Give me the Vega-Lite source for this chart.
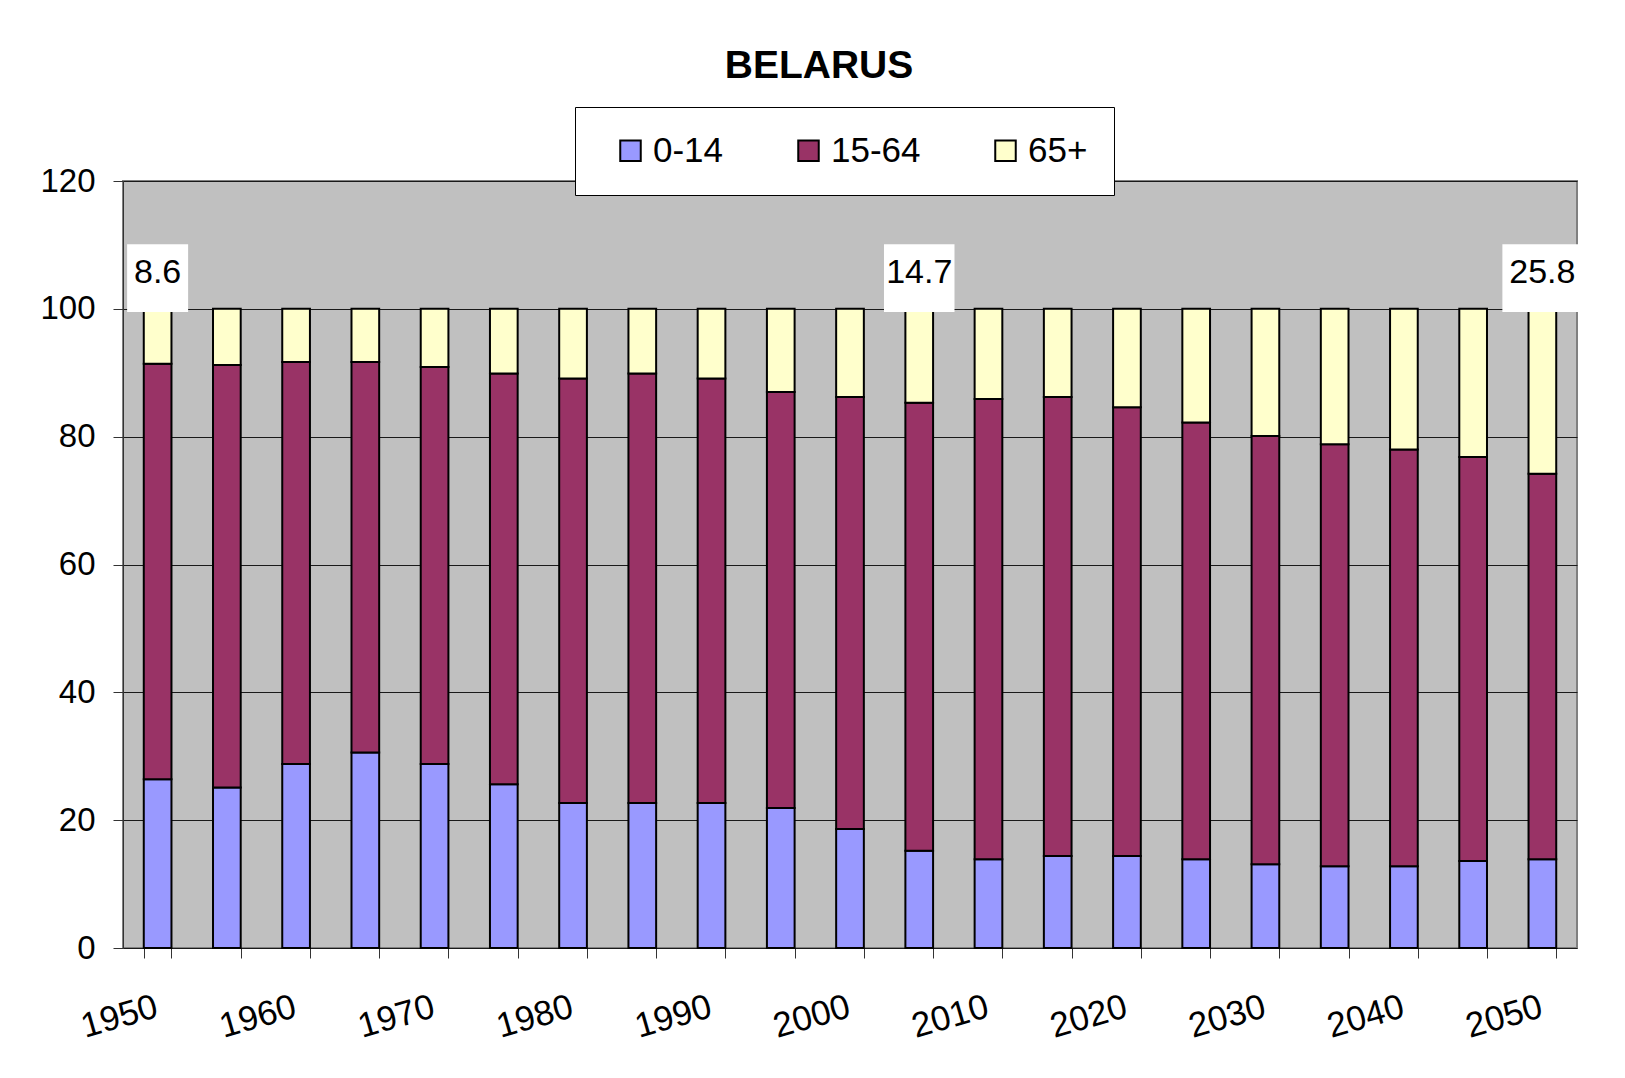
{
  "$schema": "https://vega.github.io/schema/vega-lite/v6.json",
  "width": 1454,
  "height": 767,
  "autosize": {"type": "none"},
  "padding": {"left": 123, "top": 181, "right": 48, "bottom": 130},
  "background": "white",
  "title": {
    "text": "BELARUS",
    "font": "Liberation Sans",
    "fontSize": 39,
    "fontWeight": "bold",
    "color": "black",
    "frame": "group",
    "anchor": "middle",
    "dx": -31,
    "offset": -10,
    "baseline": "alphabetic"
  },
  "config": {
    "font": "Liberation Sans",
    "view": {"fill": "#C0C0C0", "stroke": "#808080", "strokeWidth": 2},
    "axis": {"labelColor": "black", "labelFont": "Liberation Sans"}
  },
  "datasets": {
    "pop": [
      {"year": 1950, "group": "0-14", "value": 26.4}, {"year": 1950, "group": "15-64", "value": 65.0}, {"year": 1950, "group": "65+", "value": 8.6},
      {"year": 1955, "group": "0-14", "value": 25.1}, {"year": 1955, "group": "15-64", "value": 66.1}, {"year": 1955, "group": "65+", "value": 8.8},
      {"year": 1960, "group": "0-14", "value": 28.8}, {"year": 1960, "group": "15-64", "value": 62.9}, {"year": 1960, "group": "65+", "value": 8.3},
      {"year": 1965, "group": "0-14", "value": 30.6}, {"year": 1965, "group": "15-64", "value": 61.1}, {"year": 1965, "group": "65+", "value": 8.3},
      {"year": 1970, "group": "0-14", "value": 28.8}, {"year": 1970, "group": "15-64", "value": 62.1}, {"year": 1970, "group": "65+", "value": 9.1},
      {"year": 1975, "group": "0-14", "value": 25.6}, {"year": 1975, "group": "15-64", "value": 64.3}, {"year": 1975, "group": "65+", "value": 10.1},
      {"year": 1980, "group": "0-14", "value": 22.7}, {"year": 1980, "group": "15-64", "value": 66.4}, {"year": 1980, "group": "65+", "value": 10.9},
      {"year": 1985, "group": "0-14", "value": 22.7}, {"year": 1985, "group": "15-64", "value": 67.2}, {"year": 1985, "group": "65+", "value": 10.1},
      {"year": 1990, "group": "0-14", "value": 22.7}, {"year": 1990, "group": "15-64", "value": 66.4}, {"year": 1990, "group": "65+", "value": 10.9},
      {"year": 1995, "group": "0-14", "value": 21.9}, {"year": 1995, "group": "15-64", "value": 65.1}, {"year": 1995, "group": "65+", "value": 13.0},
      {"year": 2000, "group": "0-14", "value": 18.6}, {"year": 2000, "group": "15-64", "value": 67.6}, {"year": 2000, "group": "65+", "value": 13.8},
      {"year": 2005, "group": "0-14", "value": 15.2}, {"year": 2005, "group": "15-64", "value": 70.1}, {"year": 2005, "group": "65+", "value": 14.7},
      {"year": 2010, "group": "0-14", "value": 13.9}, {"year": 2010, "group": "15-64", "value": 72.0}, {"year": 2010, "group": "65+", "value": 14.1},
      {"year": 2015, "group": "0-14", "value": 14.4}, {"year": 2015, "group": "15-64", "value": 71.8}, {"year": 2015, "group": "65+", "value": 13.8},
      {"year": 2020, "group": "0-14", "value": 14.4}, {"year": 2020, "group": "15-64", "value": 70.2}, {"year": 2020, "group": "65+", "value": 15.4},
      {"year": 2025, "group": "0-14", "value": 13.9}, {"year": 2025, "group": "15-64", "value": 68.3}, {"year": 2025, "group": "65+", "value": 17.8},
      {"year": 2030, "group": "0-14", "value": 13.1}, {"year": 2030, "group": "15-64", "value": 67.0}, {"year": 2030, "group": "65+", "value": 19.9},
      {"year": 2035, "group": "0-14", "value": 12.8}, {"year": 2035, "group": "15-64", "value": 66.0}, {"year": 2035, "group": "65+", "value": 21.2},
      {"year": 2040, "group": "0-14", "value": 12.8}, {"year": 2040, "group": "15-64", "value": 65.2}, {"year": 2040, "group": "65+", "value": 22.0},
      {"year": 2045, "group": "0-14", "value": 13.6}, {"year": 2045, "group": "15-64", "value": 63.2}, {"year": 2045, "group": "65+", "value": 23.2},
      {"year": 2050, "group": "0-14", "value": 13.9}, {"year": 2050, "group": "15-64", "value": 60.3}, {"year": 2050, "group": "65+", "value": 25.8}
    ],
    "labels": [
      {"year": 1950, "label": "8.6"},
      {"year": 2005, "label": "14.7"},
      {"year": 2050, "label": "25.8"}
    ]
  },
  "layer": [
    {
      "data": {"name": "pop"},
      "mark": {"type": "bar", "stroke": "black", "strokeWidth": 2},
      "encoding": {
        "x": {
          "field": "year",
          "type": "ordinal",
          "scale": {"paddingInner": 0.6, "paddingOuter": 0.3},
          "axis": {
            "title": null,
            "tickBand": "extent",
            "labelExpr": "datum.value % 10 == 0 ? datum.label : ''",
            "labelAngle": -16,
            "labelAlign": "right",
            "labelBaseline": "top",
            "labelFontSize": 35,
            "labelPadding": 31,
            "labelOffset": -6,
            "labelOverlap": false,
            "labelFlush": false,
            "labelBound": false,
            "tickSize": 10,
            "tickColor": "#333333",
            "tickWidth": 1,
            "domain": false,
            "grid": false
          }
        },
        "y": {
          "field": "value",
          "type": "quantitative",
          "stack": "zero",
          "scale": {"domain": [0, 120], "nice": false},
          "axis": {
            "title": null,
            "values": [0, 20, 40, 60, 80, 100, 120],
            "labelFontSize": 33,
            "labelPadding": 18,
            "tickSize": 10,
            "tickColor": "#333333",
            "domainColor": "#333333",
            "domainWidth": 1,
            "grid": true,
            "gridColor": "#1a1a1a",
            "gridWidth": 1
          }
        },
        "color": {
          "field": "group",
          "type": "nominal",
          "scale": {"domain": ["0-14", "15-64", "65+"], "range": ["#9999FF", "#993366", "#FFFFCC"]},
          "legend": {
            "title": " ",
            "titleOrient": "left",
            "titleFontSize": 12,
            "titlePadding": 12,
            "orient": "none",
            "direction": "horizontal",
            "legendX": 452,
            "legendY": -74,
            "fillColor": "white",
            "strokeColor": "black",
            "padding": 26,
            "columnPadding": 67,
            "labelFontSize": 35,
            "labelFont": "Liberation Sans",
            "labelColor": "black",
            "labelOffset": 5,
            "symbolType": "square",
            "symbolSize": 420,
            "symbolStrokeColor": "black",
            "symbolStrokeWidth": 2
          }
        },
        "order": {"field": "group", "sort": "ascending"}
      }
    },
    {
      "data": {"name": "labels"},
      "mark": {"type": "bar", "fill": "white", "stroke": null},
      "encoding": {
        "x": {"field": "year", "type": "ordinal"},
        "y": {"datum": 99.5, "type": "quantitative"},
        "y2": {"datum": 110.1},
        "size": {
          "field": "label",
          "type": "ordinal",
          "scale": {"domain": ["8.6", "14.7", "25.8"], "range": [61, 80, 80]},
          "legend": null
        }
      }
    },
    {
      "data": {"name": "labels"},
      "mark": {"type": "text", "fontSize": 34, "font": "Liberation Sans", "color": "black", "baseline": "middle", "align": "center"},
      "encoding": {
        "x": {"field": "year", "type": "ordinal"},
        "y": {"datum": 105.6, "type": "quantitative"},
        "text": {"field": "label"}
      }
    }
  ]
}
